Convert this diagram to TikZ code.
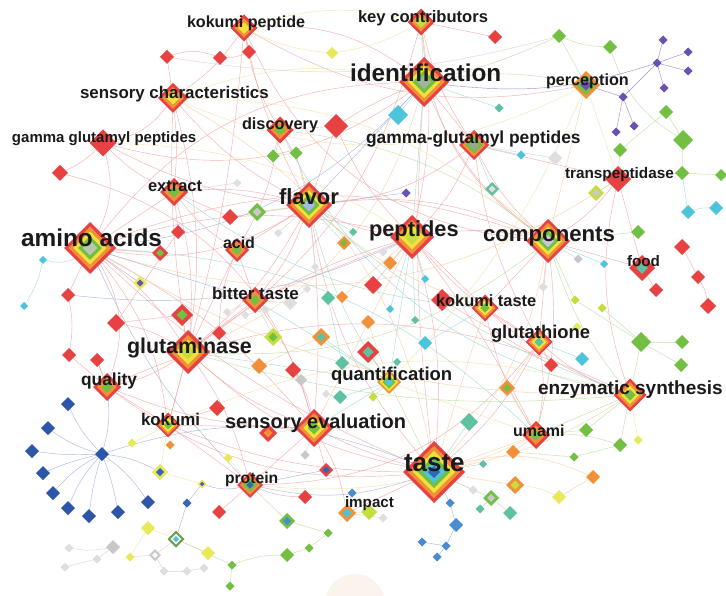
\documentclass[tikz,border=0pt]{standalone}
\usepackage{fontspec}
\setmainfont{Liberation Sans}
\usetikzlibrary{shapes.geometric}
\pgfdeclarelayer{back}\pgfdeclarelayer{bg}\pgfsetlayers{back,bg,main}
\definecolor{cR}{HTML}{E84142}\definecolor{cO}{HTML}{F0913A}\definecolor{cY}{HTML}{F2E13A}
\definecolor{cYG}{HTML}{C6DD3F}\definecolor{cG}{HTML}{72BF44}\definecolor{cT}{HTML}{5EC2A0}
\definecolor{cC}{HTML}{4CC4DC}\definecolor{cB}{HTML}{3466B8}\definecolor{cBl}{HTML}{4B8BD0}
\definecolor{cBd}{HTML}{2E56A8}\definecolor{cP}{HTML}{6A52B0}\definecolor{cGr}{HTML}{C8C8C8}
\definecolor{cGl}{HTML}{DEDEDE}\definecolor{cYl}{HTML}{E8E85A}\definecolor{txt}{HTML}{1A1A1A}
\definecolor{idc}{HTML}{9DB59A}\definecolor{flc}{HTML}{A5B8E6}\definecolor{coc}{HTML}{C8C8D8}
\definecolor{aac}{HTML}{B8C8B0}\definecolor{ggc}{HTML}{9AA890}\definecolor{olv}{HTML}{6E9B55}
\definecolor{eR}{HTML}{F3A3A3}\definecolor{eO}{HTML}{F6CDA0}\definecolor{eY}{HTML}{EEE49E}
\definecolor{eG}{HTML}{B8DD9E}\definecolor{eT}{HTML}{9ED8CB}\definecolor{eC}{HTML}{9BD8E8}
\definecolor{eB}{HTML}{9EAFD8}\definecolor{eP}{HTML}{8F7FC4}\definecolor{eGr}{HTML}{D0D0D0}
\definecolor{blob}{HTML}{FAF4EC}
\tikzset{
  dia/.style={diamond, inner sep=0pt, outer sep=0pt, draw=none, aspect=1},
  edge/.style={line width=0.45pt, opacity=0.85},
  lbl/.style={anchor=base west, inner sep=0pt, outer sep=0pt, text=txt}
}
\newcommand\sd[5]{\node[dia, fill=#5, minimum size=#4] (#1) at (#2,#3) {};}
\newcommand\td[6]{\node[dia, fill=#5, minimum size=#4] (#1) at (#2,#3) {};
  \node[dia, fill=#6, minimum size={0.5*#4}] (#1i) at (#2,#3) {};}
\newcommand\ringd[7]{\node[dia, fill=#5, minimum size=#4] (#1) at (#2,#3) {};
  \foreach \c [count=\i] in {#6} {\node[dia, fill=\c, minimum size={#4*(1-#7*\i)}] (#1-\i) at (#2,#3) {};}}
\newcommand\lab[5]{\node[lbl, font=\fontsize{#4}{#4}\selectfont\bfseries] (#1) at (#2,#3) {#5};}
\begin{document}
\begin{tikzpicture}[x=1pt,y=-1pt]
\useasboundingbox (0,0) rectangle (726,596);
\begin{pgfonlayer}{back}
\fill[white] (0,0) rectangle (726,596);
\fill[blob] (355,604) circle (30);
\end{pgfonlayer}
% ---------- hub nodes ----------
\ringd{kp}{244}{28}{27}{cR}{cO,cY}{0.28}
\ringd{kc}{421}{22}{27}{cR}{cO,cYG}{0.28}
\ringd{id}{424}{82}{50}{cR}{cO,cY,cG,idc}{0.18}
\ringd{pe}{586}{85}{28}{cO}{cG,cP}{0.3}
\ringd{sc}{173}{98}{30}{cR}{cO,cY}{0.28}
\sd{gg}{103}{143}{27}{cR}
\ringd{di}{280}{130}{27}{cR}{cO,cG}{0.3}
\ringd{ggp}{474}{145}{30}{cR}{cO,cG,ggc}{0.22}
\sd{tp}{618}{179}{26}{cR}
\ringd{ex}{174}{192}{28}{cR}{cO,cG}{0.3}
\ringd{fl}{309}{205}{46}{cR}{cO,cY,cG,flc}{0.18}
\ringd{pep}{412}{237}{44}{cR}{cO,cY,cYG}{0.22}
\ringd{co}{548}{241}{44}{cR}{cO,cY,cG,coc}{0.18}
\ringd{aa}{90}{248}{52}{cR}{cO,cY,cG,aac}{0.18}
\ringd{ac}{237}{250}{24}{cR}{cO,cG}{0.3}
\ringd{fo}{642}{268}{26}{cR}{cT}{0.55}
\ringd{bt}{255}{300}{26}{cR}{cO,cG}{0.3}
\ringd{kt}{485}{308}{27}{cR}{cO,cY,cG}{0.22}
\ringd{gt}{539}{342}{27}{cR}{cO,cY,cT}{0.22}
\ringd{gl}{188}{352}{44}{cR}{cO,cY,cYG}{0.22}
\ringd{qu}{389}{382}{24}{cO}{cY,cG,cC}{0.22}
\ringd{ql}{107}{387}{28}{cR}{cO,cG}{0.3}
\ringd{es}{630}{395}{33}{cR}{cO,cY,cG}{0.22}
\ringd{ko}{168}{425}{25}{cR}{cO,cY,cG}{0.22}
\ringd{se}{314}{428}{38}{cR}{cO,cY,cG}{0.22}
\ringd{um}{536}{435}{28}{cR}{cO,cG}{0.3}
\ringd{ta}{434}{472}{62}{cR}{cO,cY,cG,cC,cB}{0.16}
\ringd{pr}{250}{485}{26}{cR}{cO,cG,cB}{0.24}
\td{im}{347}{513}{18}{cO}{cC}
% ---------- small nodes ----------
\sd{s1}{167}{57}{14}{cR}\sd{s2}{220}{58}{14}{cR}\sd{s3}{249}{52}{14}{cR}
\sd{s4}{332}{53}{12}{cYl}\sd{s5}{60}{173}{16}{cR}\sd{s6}{273}{156}{13}{cG}
\sd{s7}{296}{153}{13}{cG}\sd{s8}{237}{183}{8}{cGl}\sd{s9}{336}{126}{24}{cR}
\sd{s10}{495}{37}{14}{cR}\sd{s11}{559}{36}{14}{cG}\sd{s12}{610}{47}{14}{cG}
\sd{p1}{663}{40}{9}{cP}\sd{p2}{688}{52}{9}{cP}\sd{p3}{688}{71}{9}{cP}
\sd{p4}{657}{63}{9}{cP}\sd{p5}{664}{88}{9}{cP}\sd{p6}{623}{97}{9}{cP}
\sd{p7}{616}{132}{9}{cP}\sd{p8}{634}{126}{9}{cP}
\sd{s13}{666}{112}{14}{cG}\sd{s14}{683}{140}{20}{cG}\sd{s15}{398}{115}{20}{cC}
\sd{s16}{499}{108}{9}{cT}\sd{s17}{521}{155}{9}{cC}\sd{s18}{555}{158}{14}{cGl}
\sd{s19}{620}{150}{14}{cG}\sd{s20}{682}{173}{14}{cG}\sd{s21}{721}{175}{12}{cG}
\td{s22}{596}{193}{16}{cYG}{cGr}\td{s23}{492}{189}{14}{cT}{cGl}\sd{s24}{406}{193}{9}{cP}
\sd{s25}{43}{260}{8}{cC}\sd{s26}{24}{306}{8}{cC}\sd{s27}{230}{217}{16}{cR}
\td{s28}{257}{212}{18}{cG}{cGr}\sd{s29}{178}{232}{14}{cR}\td{s30}{160}{253}{16}{cR}{cG}
\td{s31}{140}{283}{14}{cYl}{cP}\sd{s32}{68}{295}{14}{cR}\sd{s33}{116}{323}{18}{cR}
\td{s34}{182}{315}{22}{cR}{cG}\sd{s35}{219}{333}{14}{cR}\td{s36}{273}{337}{18}{cYG}{cG}
\td{s37}{321}{337}{18}{cO}{cT}\sd{s38}{69}{355}{14}{cR}\sd{s39}{97}{360}{14}{cR}
\sd{s40}{259}{366}{16}{cO}\sd{s41}{293}{370}{16}{cR}\sd{s42}{301}{380}{12}{cGr}
\sd{s43}{315}{267}{8}{cGl}\sd{s44}{307}{289}{8}{cGl}\sd{s45}{290}{303}{14}{cGl}
\sd{s46}{227}{312}{8}{cGl}\sd{s47}{245}{315}{8}{cGl}\sd{s48}{265}{310}{8}{cGl}
\sd{s49}{328}{298}{14}{cT}\sd{s50}{342}{297}{12}{cO}\td{s51}{344}{243}{14}{cO}{cG}
\sd{s52}{353}{232}{8}{cT}\sd{s53}{278}{233}{8}{cGl}\sd{s55}{373}{285}{18}{cR}
\sd{s56}{390}{263}{14}{cO}\sd{s57}{425}{279}{8}{cC}\sd{s58}{390}{309}{8}{cC}
\sd{s59}{368}{322}{14}{cO}\sd{s60}{415}{320}{8}{cT}\td{s61}{368}{352}{22}{cR}{cT}
\sd{s62}{425}{343}{14}{cC}\sd{s63}{397}{362}{8}{cT}\sd{s64}{342}{363}{14}{cT}
\sd{s65}{340}{397}{14}{cT}\sd{s66}{326}{394}{8}{cGl}\sd{s67}{373}{397}{9}{cYG}
\sd{s68}{217}{408}{16}{cR}\td{s69}{268}{433}{18}{cR}{cO}\sd{s70}{469}{422}{18}{cT}
\sd{s71}{483}{464}{8}{cT}\sd{s72}{305}{455}{9}{cGr}\td{s73}{326}{470}{14}{cR}{cB}
\sd{s74}{228}{458}{9}{cYl}\sd{s75}{305}{497}{14}{cR}\sd{s76}{352}{493}{9}{cBl}
\sd{s77}{383}{252}{9}{cGl}
\sd{s78}{688}{212}{14}{cC}\sd{s79}{716}{208}{14}{cC}\sd{s80}{638}{232}{14}{cG}
\sd{s81}{682}{247}{16}{cR}\sd{s82}{578}{259}{9}{cGr}\sd{s83}{604}{264}{8}{cC}
\sd{s84}{656}{290}{14}{cR}\sd{s85}{698}{277}{14}{cR}\sd{s86}{708}{306}{16}{cR}
\sd{s87}{543}{287}{9}{cGl}\sd{s88}{575}{300}{9}{cYG}\sd{s89}{602}{308}{9}{cYG}
\sd{s90}{577}{327}{9}{cYl}\sd{s91}{641}{342}{20}{cG}\sd{s92}{682}{342}{14}{cG}
\sd{s93}{681}{365}{14}{cG}\sd{s94}{582}{359}{14}{cC}\sd{s95}{551}{365}{14}{cR}
\td{s96}{507}{388}{16}{cO}{cG}\sd{s97}{442}{300}{22}{cR}\sd{s98}{586}{430}{14}{cG}
\sd{s99}{620}{445}{14}{cG}\sd{s100}{638}{440}{9}{cYl}\sd{s101}{513}{452}{14}{cO}
\sd{s102}{574}{457}{9}{cG}\td{s103}{515}{485}{18}{cO}{cYG}\sd{s104}{593}{477}{14}{cO}
\sd{s105}{559}{497}{14}{cYl}\td{s106}{491}{498}{16}{cG}{cGr}\sd{s107}{480}{509}{9}{cT}
\sd{s108}{510}{513}{14}{cT}\sd{s109}{473}{490}{9}{cGl}
\sd{b1}{450}{503}{9}{cBl}\sd{b2}{456}{525}{14}{cBl}\sd{b3}{422}{542}{9}{cBl}
\sd{b4}{446}{546}{9}{cBl}\sd{b5}{437}{557}{9}{cBl}
\sd{s110}{383}{518}{9}{cGl}\sd{s111}{369}{512}{16}{cYG}
\sd{B1}{68}{404}{14}{cBd}\sd{B2}{48}{428}{14}{cBd}\sd{B3}{32}{451}{14}{cBd}
\sd{B0}{102}{454}{14}{cBd}\sd{B4}{43}{473}{14}{cBd}\sd{B5}{53}{493}{14}{cBd}
\sd{B6}{68}{508}{14}{cBd}\sd{B7}{89}{516}{14}{cBd}\sd{B8}{118}{512}{14}{cBd}
\sd{B9}{148}{502}{14}{cBd}
\td{s112}{160}{472}{16}{cYl}{cB}\sd{s113}{132}{443}{9}{cYl}\sd{s114}{170}{445}{9}{cO}
\td{s115}{202}{484}{9}{cYl}{cP}\sd{s116}{187}{503}{9}{cB}\sd{s117}{219}{512}{14}{cR}
\td{s119}{287}{521}{16}{cG}{cBl}\sd{s120}{328}{533}{9}{cG}\sd{s121}{309}{548}{9}{cG}
\sd{s122}{287}{555}{14}{cG}\sd{s123}{232}{565}{9}{cG}\sd{s124}{230}{586}{9}{cG}
\sd{s125}{148}{528}{14}{cYl}
\node[dia, fill=olv, minimum size=17] (s126) at (176,539) {};
\node[dia, fill=white!85!cG, minimum size=11] (s126a) at (176,539) {};
\node[dia, fill=cC, minimum size=6] (s126b) at (176,539) {};
\sd{s127}{208}{553}{14}{cYl}\sd{s128}{130}{557}{9}{cYl}
\td{s129}{155}{555}{12}{cGr}{white!90!cGr}
\sd{s130}{113}{547}{14}{cGr}\sd{s131}{97}{559}{9}{cGl}\sd{s132}{69}{548}{9}{cGl}
\sd{s133}{65}{567}{9}{cGl}\sd{s134}{164}{571}{9}{cGl}\sd{s135}{187}{571}{9}{cGl}
\sd{s136}{204}{568}{9}{cGl}
% ---------- connectors ----------
\begin{pgfonlayer}{bg}
\foreach \a/\b/\n in {kp/sc/10,kp/di/-10,kp/s3/0,s1/s2/20,s2/s3/-10,kp/fl/-8,kp/gl/5,kc/s10/0,kc/pep/10,kc/ggp/-10,kc/co/-25,sc/gg/20,sc/ex/5,sc/fl/-10,sc/ko/15,sc/gl/-5,gg/s5/10,gg/ex/-10,gg/fl/-10,gg/aa/20,di/s9/0,di/fl/10,di/ac/10,s9/fl/0,s9/id/5,s9/pep/-10,id/ggp/0,id/co/-15,id/ta/-5,ggp/pep/10,ggp/co/-10,ggp/tp/0,ggp/fl/15,ggp/gt/-10,tp/fo/0,tp/es/-15,tp/co/10,ex/fl/10,ex/aa/0,ex/s27/0,ex/s29/0,ex/gl/10,ex/ac/-10,fl/pep/-10,fl/co/15,fl/aa/20,fl/ac/0,fl/bt/10,fl/gl/10,fl/ta/-15,fl/se/5,pep/co/10,pep/kt/0,pep/gt/-10,pep/ta/10,pep/aa/-15,pep/gl/-10,pep/bt/0,pep/um/5,pep/s55/0,co/fo/0,co/gt/0,co/kt/0,co/um/10,aa/gl/10,aa/ql/25,aa/s30/0,aa/s32/0,aa/ta/-10,aa/se/10,aa/ko/15,ac/bt/0,ac/gl/0,ac/s35/-10,bt/gl/0,bt/se/10,kt/gt/0,kt/um/-10,kt/s97/0,kt/es/-10,gt/es/-10,gt/um/10,gt/s95/0,gt/ta/10,gl/ql/10,gl/ko/0,gl/se/-10,gl/ta/-15,gl/pr/10,ql/ko/0,ql/se/-10,ql/s38/0,ql/s39/0,ko/se/0,ko/pr/0,se/ta/-5,se/pr/0,se/s73/0,se/im/10,ta/im/0,pr/s117/0,pr/s75/-10,fo/s84/0,s85/s86/10,s81/s85/0,s29/s33/0,s33/s34/0,s34/gl/0,s32/s38/10,s39/ql/0,s27/fl/0,s68/ko/0,s41/se/10,s95/s97/0,s61/qu/0,kp/id/20,aa/id/25,aa/co/20,ql/ta/-20,kc/gl/20,ko/ta/-10,s1/sc/0,s33/gl/10,kp/pe/-20,gg/id/-25,ql/es/25,s5/se/30,pr/gt/-25,kp/co/-30}
  {\draw[edge, eR] (\a) to[bend left=\n] (\b);}
\foreach \a/\b/\n in {pe/co/0,fl/kt/-10,pep/se/0,co/ta/15,kt/ta/0,es/ta/10,um/ta/0,ta/s103/0,ta/s104/20,um/s101/0,s105/s104/0,pep/s56/0,s37/s40/0,s59/qu/0,s69/se/0,aa/es/-15,id/gl/25,s50/pep/0,s96/um/0,s96/gt/0,aa/tp/-25,sc/ta/25}
  {\draw[edge, eO] (\a) to[bend left=\n] (\b);}
\foreach \a/\b/\n in {kp/kc/15,sc/id/15,pe/tp/0,pe/qu/10,qu/um/0,ko/s112/0,s103/s105/10,s126/s125/0,s126/s127/0,s115/s112/0,s128/s125/0,s4/kc/-10,s74/pr/0,s90/gt/0,im/s111/0,gg/pep/15,sc/co/20,pr/um/-15,s113/ko/0,s100/es/0,s4/kp/10,sc/pe/-25,ko/es/20}
  {\draw[edge, eY] (\a) to[bend left=\n] (\b);}
\foreach \a/\b/\n in {kc/id/0,id/pe/10,id/s11/-5,pe/s11/0,tp/s19/0,tp/s20/0,tp/s22/0,fl/s28/0,di/s6/0,s6/s7/0,co/es/-10,co/s80/0,qu/ta/0,es/um/0,es/s91/0,es/s99/0,es/s98/0,um/s98/0,um/s99/10,ta/s106/0,pr/s119/0,s91/s92/0,s91/s93/0,s91/s89/0,s91/s88/0,s13/s14/0,s14/s20/0,s12/s11/10,s19/s13/0,s126/s123/0,s123/s124/0,s123/s122/10,s122/s121/0,s121/s120/0,s120/s119/0,s106/s107/0,s106/s108/0,s101/s102/0,s102/s99/0,co/s88/0,s36/bt/0,s12/s14/-20,s20/s21/0,gl/es/-10,di/co/15,s67/qu/0,s7/fl/0,gl/co/-20}
  {\draw[edge, eG] (\a) to[bend left=\n] (\b);}
\foreach \a/\b/\n in {id/pep/0,id/s16/0,fl/qu/-10,pep/qu/0,bt/qu/0,gl/qu/0,qu/se/0,ta/s70/0,s49/s64/0,s52/fl/0,s60/pep/0,s65/qu/0,s63/qu/0,s23/ggp/0,s71/ta/0,fl/es/-10,s51/fl/0,s37/qu/0,aa/um/20,ex/kt/-15,di/es/-25}
  {\draw[edge, eT] (\a) to[bend left=\n] (\b);}
\foreach \a/\b/\n in {id/s15/0,ggp/s17/0,aa/s25/20,s25/s26/10,gt/s94/0,s20/s78/0,s78/s79/10,s83/co/0,s57/pep/0,s62/kt/0,im/s76/0,s58/pep/0}
  {\draw[edge, eC] (\a) to[bend left=\n] (\b);}
\foreach \a/\b/\n in {id/fl/0,id/aa/20,aa/bt/0,aa/pr/-10,ta/b1/0,ta/pr/15,pr/s115/15,pr/s73/0,ql/B0/10,B0/B1/10,B0/B2/10,B0/B3/5,B0/B4/-5,B0/B5/-10,B0/B6/-10,B0/B7/-5,B0/B8/5,B0/B9/10,B0/s112/10,s126/s116/0,s115/s116/0,b1/b2/0,b2/b4/0,b4/b3/0,b4/b5/0,s24/fl/0,s31/aa/0,B0/ta/20,s32/pep/-15}
  {\draw[edge, eB] (\a) to[bend left=\n] (\b);}
\foreach \a/\b/\n in {id/p4/-12,p4/p1/0,p4/p2/0,p4/p3/0,p4/p5/0,p4/p6/0,p6/p7/0,p6/p8/0,pe/p6/0}
  {\draw[edge, eP] (\a) to[bend left=\n] (\b);}
\foreach \a/\b/\n in {ggp/s18/0,co/s82/0,bt/s45/0,s130/s131/0,s130/s132/10,s131/s133/0,s129/s128/0,s126/s129/0,s134/s135/0,s135/s136/0,s129/s134/0,im/s110/0,s44/s45/0,s46/bt/0,s47/s48/0,s42/s41/0,s66/s65/0,s72/se/0,s87/co/0,s43/fl/0,s53/fl/0,s8/ex/0,s77/pep/0,s109/ta/0,s1/s11/-12}
  {\draw[edge, eGr] (\a) to[bend left=\n] (\b);}
\end{pgfonlayer}
% ---------- labels ----------
\lab{l-kp}{187}{28}{16.1}{kokumi peptide}
\lab{l-kc}{358}{23}{16.6}{key contributors}
\lab{l-id}{350}{82}{24.3}{identification}
\lab{l-pe}{546}{86}{16.2}{perception}
\lab{l-sc}{80}{99}{16.9}{sensory characteristics}
\lab{l-gg}{12}{143}{15}{gamma glutamyl peptides}
\lab{l-di}{242}{130}{16.3}{discovery}
\lab{l-ggp}{366}{144}{17.4}{gamma-glutamyl peptides}
\lab{l-tp}{565}{179}{15.3}{transpeptidase}
\lab{l-ex}{148}{192}{16.5}{extract}
\lab{l-fl}{279}{205}{22}{flavor}
\lab{l-pep}{369}{237}{21.8}{peptides}
\lab{l-co}{483}{242}{22.2}{components}
\lab{l-aa}{21}{247}{24.4}{amino acids}
\lab{l-ac}{223}{249}{16}{acid}
\lab{l-fo}{627}{267}{15.2}{food}
\lab{l-bt}{212}{300}{17}{bitter taste}
\lab{l-kt}{436}{307}{16.4}{kokumi taste}
\lab{l-gt}{491}{338}{18.4}{glutathione}
\lab{l-gl}{127}{353}{21.4}{glutaminase}
\lab{l-qu}{331}{380}{18.5}{quantification}
\lab{l-ql}{81}{385}{17.4}{quality}
\lab{l-es}{538}{394}{19}{enzymatic synthesis}
\lab{l-ko}{141}{425}{16.9}{kokumi}
\lab{l-se}{225}{428}{20}{sensory evaluation}
\lab{l-um}{513}{436}{16}{umami}
\lab{l-ta}{404}{471}{26}{taste}
\lab{l-pr}{225}{483}{15.7}{protein}
\lab{l-im}{345}{507}{15.2}{impact}
\end{tikzpicture}
\end{document}
